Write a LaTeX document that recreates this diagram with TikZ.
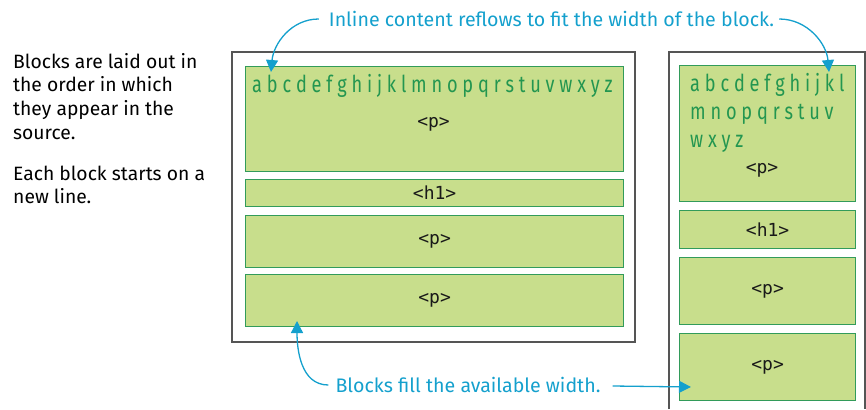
\documentclass[tikz,border=0pt]{standalone}
\usepackage{fontspec}
\setmainfont{Fira Sans}
\setmonofont{DejaVu Sans Mono}
\newfontfamily\inlinefont{Fira Sans}[FakeStretch=0.78]
\usetikzlibrary{arrows.meta,positioning,calc}
\definecolor{blockfill}{RGB}{200,222,140}
\definecolor{blockline}{RGB}{50,155,90}
\definecolor{inkgreen}{RGB}{35,150,80}
\definecolor{noteblue}{RGB}{20,160,205}
\definecolor{framegray}{RGB}{85,85,85}

\begin{document}
\begin{tikzpicture}[
    x=1pt, y=-1pt,
    block/.style={draw=blockline, fill=blockfill, line width=1.2pt, inner sep=0pt, anchor=north west},
    tag/.style={font=\fontsize{18}{20}\selectfont\ttfamily, text=black!90},
    letters/.style={font=\fontsize{23.3}{28}\selectfont\inlinefont, text=inkgreen, inner sep=0pt, align=left},
    note/.style={font=\fontsize{19.6}{22}\selectfont, text=noteblue, inner sep=0pt},
    pointer/.style={-{Triangle[length=12pt, width=12pt]}, noteblue, line width=1.3pt},
    frame/.style={draw=framegray, line width=1.3pt}
]
\useasboundingbox (0,0) rectangle (866,409);

% Description on the left
\node[anchor=north west, inner sep=0pt, align=left, font=\fontsize{19.3}{23.7}\selectfont] (desc) at (13,53)
  {Blocks are laid out in\\the order in which\\they appear in the\\source.\\[17pt]Each block starts on a\\new line.};

% Wide container
\draw[frame] (232,52) rectangle (635,342);
\node[block, minimum width=378pt, minimum height=105pt] (wp1) at (245,66) {};
\node[block, minimum width=378pt, minimum height=27pt] (wh1) at (245,179) {};
\node[block, minimum width=378pt, minimum height=52pt] (wp2) at (245,215) {};
\node[block, minimum width=378pt, minimum height=52pt] (wp3) at (245,274) {};
\node[letters, anchor=west] (wabc) at (252,86) {a b c d e f g h i j k l m n o p q r s t u v w x y z};
\node[tag] at (433.5,124) {<p>};
\node[tag] at (wh1.center) {<h1>};
\node[tag] at (wp2.center) {<p>};
\node[tag] at (wp3.center) {<p>};

% Narrow container (open at the bottom)
\draw[frame] (669,409) -- (669,52) -- (865,52) -- (865,409);
\node[block, minimum width=176pt, minimum height=136pt] (np1) at (679,65) {};
\node[block, minimum width=176pt, minimum height=38pt] (nh1) at (679,210) {};
\node[block, minimum width=176pt, minimum height=67pt] (np2) at (679,257) {};
\node[block, minimum width=176pt, minimum height=67pt] (np3) at (679,333) {};
\node[letters, anchor=north west] (nabc) at (690,73) {a b c d e f g h i j k l\\m n o p q r s t u v\\w x y z};
\node[tag] at (762,170) {<p>};
\node[tag] at (nh1.center) {<h1>};
\node[tag] at (np2.center) {<p>};
\node[tag] at (np3.center) {<p>};

% Annotations
\node[note] (reflow) at (551.5,19) {Inline content reflows to fit the width of the block.};
\node[note] (fill) at (468,385) {Blocks fill the available width.};
\coordinate (reflowL) at (271,72);
\coordinate (reflowR) at (829,72);
\coordinate (fillL) at (297,321);
\coordinate (fillR) at (691,387);
\draw[pointer] ([xshift=-10pt]reflow.west) to[out=180, in=85] (reflowL);
\draw[pointer] ([xshift=5pt]reflow.east) to[out=0, in=95] (reflowR);
\draw[pointer] ([xshift=-7pt]fill.west) to[out=180, in=-90] (fillL);
\draw[pointer] ([xshift=12pt,yshift=-1pt]fill.east) -- (fillR);

\end{tikzpicture}
\end{document}
